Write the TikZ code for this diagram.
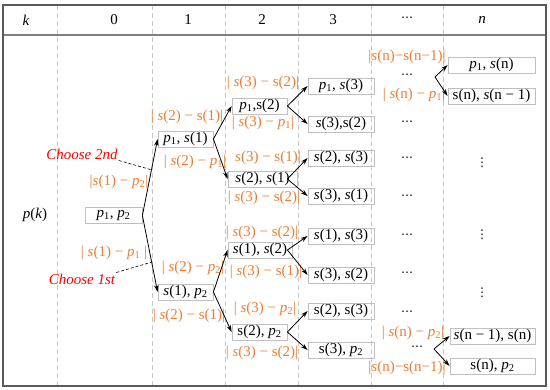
\documentclass[tikz,border=0pt]{standalone}
\usepackage{fontspec}
\setmainfont{Liberation Serif}
\newfontfamily\djv{DejaVu Sans}
\usetikzlibrary{arrows.meta}
\definecolor{orng}{RGB}{237,125,49}
\definecolor{boxgray}{RGB}{191,191,191}
\definecolor{dashgray}{RGB}{200,200,200}
\definecolor{framegray}{RGB}{89,89,89}
\definecolor{headgray}{RGB}{127,127,127}
\newcommand{\ip}[1]{\textit{p}\textsubscript{#1}}
\newcommand{\is}{\textit{s}}
\begin{document}
\begin{tikzpicture}[x=1pt,y=-1pt,
  every node/.style={font=\fontsize{15}{17}\selectfont, inner sep=1pt},
  box/.style={draw=boxgray, line width=0.8pt, minimum height=16pt, inner ysep=0.5pt},
  lab/.style={text=orng},
  red/.style={text=red, font=\fontsize{15}{17}\selectfont\itshape},
  arr/.style={-{Stealth[length=7pt,width=4.5pt]}, line width=0.8pt},
  colline/.style={draw=dashgray, line width=0.7pt, dash pattern=on 5pt off 3pt},
  choose/.style={draw=black, line width=0.6pt, dash pattern=on 3pt off 2pt},
  dots/.style={font=\fontsize{12}{13}\djv, inner sep=0pt}]
\useasboundingbox (0,0) rectangle (550,390);
% frame and grid
\foreach \x in {57,152,225,298,371,443} \draw[colline] (\x,5) -- (\x,386);
\draw[headgray, line width=2pt] (3,35) -- (546,35);
\draw[framegray, line width=1.3pt] (3,5) rectangle (546,386);
% header
\node (hk) at (26,20) {\textit{k}};
\node (h0) at (114,20) {0};
\node (h1) at (188,20) {1};
\node (h2) at (262,20) {2};
\node (h3) at (333,20) {3};
\node[dots] (hd) at (407,19) {⋯};
\node (hn) at (482,20) {\textit{n}};
\node (pk) at (35,215) {\textit{p}(\textit{k})};
% boxes
\node[box, minimum width=57pt] (n0) at (113.5,215.5) {\ip{1}, \ip{2}};
\node[box, minimum width=55pt] (a) at (185.5,139) {\ip{1}, \is(1)};
\node[box, minimum width=55pt] (b) at (185.5,292) {\is(1), \ip{2}};
\node[box, minimum width=55pt] (c) at (259.5,106) {\ip{1},s(2)};
\node[box, minimum width=69pt] (d) at (262.5,179) {\is(2), \is(1)};
\node[box, minimum width=64pt] (e) at (260,250) {\is(1), \is(2)};
\node[box, minimum width=55pt] (f) at (259.5,332) {s(2), \ip{2}};
\node[box, minimum width=66pt] (g1) at (341,86) {\ip{1}, \is(3)};
\node[box, minimum width=66pt] (g2) at (341,124) {\is(3),s(2)};
\node[box, minimum width=66pt] (g3) at (341,158) {\is(2), \is(3)};
\node[box, minimum width=66pt] (g4) at (341,196) {\is(3), \is(1)};
\node[box, minimum width=66pt] (g5) at (341,236) {\is(1), \is(3)};
\node[box, minimum width=66pt] (g6) at (341,275) {\is(3), \is(2)};
\node[box, minimum width=66pt] (g7) at (341,311) {s(2), s(3)};
\node[box, minimum width=66pt] (g8) at (341,350) {s(3), \ip{2}};
\node[box, minimum width=87pt] (k1) at (491.5,65) {\ip{1}, \is(n)};
\node[box, minimum width=87pt] (k2) at (491.5,96) {s(n), \is(n − 1)};
\node[box, minimum width=85pt] (k3) at (492.5,336) {\is(n − 1), s(n)};
\node[box, minimum width=85pt] (k4) at (492.5,366) {s(n), \ip{2}};
% dots
\foreach \y [count=\i] in {123,159,197,236,274,313} \node[dots] (dd\i) at (407,\y) {⋯};
\node[dots] (dtop) at (407,76) {⋯};
\node[dots] (dbot) at (417,348) {⋯};
\foreach \y [count=\i] in {163,235,293} \node[dots] (vd\i) at (482,\y) {⋮};
\coordinate (vt) at (435,77);
\coordinate (vb) at (434,349);
% labels
\node[lab] (l1) at (119,182) {|\is(1) − \ip{2}|};
\node[lab] (l2) at (114,253) {| \is(1) − \ip{1} |};
\node[lab] (l3) at (187,117) {| \is(2) − s(1)|};
\node[lab] (l4) at (195,162) {| \is(2) − \ip{1}|};
\node[lab] (l5) at (193,268) {| \is(2) − \ip{2}|};
\node[lab] (l6) at (189,316) {| \is(2) − s(1)|};
\node[lab] (l7) at (263,83) {| \is(3) − s(2)|};
\node[lab] (l8) at (263,123) {| \is(3) − \ip{1}|};
\node[lab] (l9) at (268,158) {\is(3) − s(1)|};
\node[lab] (l10) at (264,198) {| \is(3) − s(2)|};
\node[lab] (l11) at (262,233) {| \is(3) − s(2)|};
\node[lab] (l12) at (266,272) {| \is(3) − s(1)|};
\node[lab] (l13) at (265,309) {| \is(3) − \ip{2}|};
\node[lab] (l14) at (262,353) {| \is(3) − s(2)|};
\node[lab] (l15) at (407,57) {|\is(n)−s(n−1)|};
\node[lab] (l16) at (414,95) {| \is(n) − \ip{1}|};
\node[lab] (l17) at (413,333) {| \is(n) − \ip{2}|};
\node[lab] (l18) at (407,368) {|\is(n)−s(n−1)|};
% choose labels
\node[red] (c2) at (82,154) {Choose 2nd};
\node[red] (c1) at (82,279) {Choose 1st};
\coordinate (c2e) at (152,170);
\coordinate (c1e) at (152,262);
\draw[choose] (c2.south east) -- (c2e);
\draw[choose] (c1.north east) -- (c1e);
% arrows
\draw[arr] (n0.east) -- (a.west);
\draw[arr] (n0.east) -- (b.west);
\draw[arr] (a.east) -- (c.west);
\draw[arr] (a.east) -- (d.west);
\draw[arr] (b.east) -- (e.west);
\draw[arr] (b.east) -- (f.west);
\draw[arr] (c.east) -- (g1.west);
\draw[arr] (c.east) -- (g2.west);
\draw[arr] ([xshift=-10pt]d.east) -- (g3.west);
\draw[arr] ([xshift=-10pt]d.east) -- (g4.west);
\draw[arr] ([xshift=-5pt]e.east) -- (g5.west);
\draw[arr] ([xshift=-5pt]e.east) -- (g6.west);
\draw[arr] (f.east) -- (g7.west);
\draw[arr] (f.east) -- (g8.west);
\draw[arr] (vt) -- (k1.west);
\draw[arr] (vt) -- (k2.west);
\draw[arr] (vb) -- (k3.west);
\draw[arr] (vb) -- (k4.west);
\end{tikzpicture}
\end{document}
